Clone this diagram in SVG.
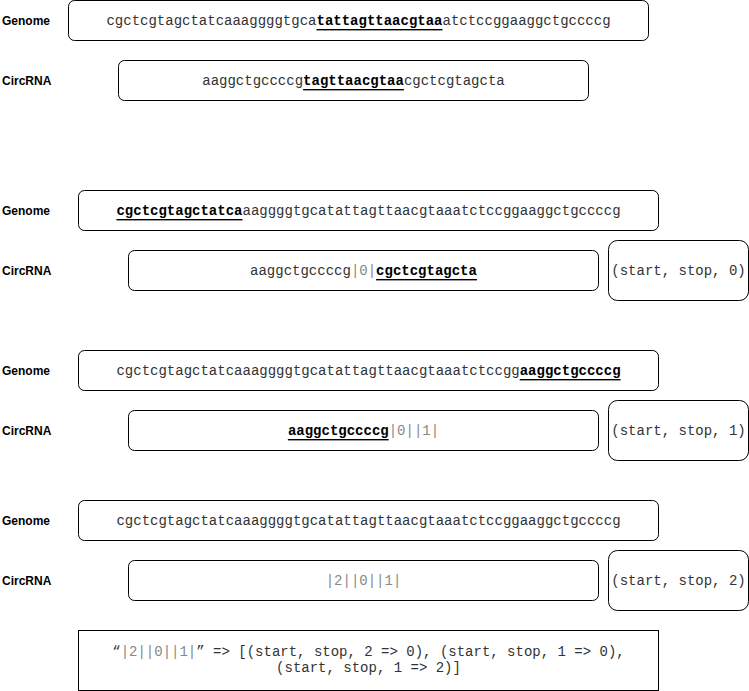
<svg xmlns="http://www.w3.org/2000/svg" width="749" height="691" viewBox="0 0 749 691">
<style>
.box{fill:#fff;stroke:#000;stroke-width:1}
.lbl{font-family:"Liberation Sans",Arial,sans-serif;font-size:12px;font-weight:bold;fill:#000;dominant-baseline:central}
.seq{font-family:"Liberation Mono","Courier New",monospace;font-size:14px;fill:#333;text-anchor:middle;dominant-baseline:central}
.hl{font-weight:bold;text-decoration:underline;fill:#000}
.g{fill:#888}
</style>
<rect width="749" height="691" fill="#fff"/>
<g id="labels">
<text class="lbl" x="2" y="21">Genome</text>
<text class="lbl" x="2" y="81">CircRNA</text>
<text class="lbl" x="2" y="211">Genome</text>
<text class="lbl" x="2" y="271">CircRNA</text>
<text class="lbl" x="2" y="371">Genome</text>
<text class="lbl" x="2" y="431">CircRNA</text>
<text class="lbl" x="2" y="521">Genome</text>
<text class="lbl" x="2" y="581">CircRNA</text>
</g>
<g id="genome1"><rect class="box" x="68.5" y="0.5" width="580" height="40" rx="6"/>
<text class="seq" x="358.5" y="21">cgctcgtagctatcaaaggggtgca<tspan class="hl">tattagttaacgtaa</tspan>atctccggaaggctgccccg</text></g>
<g id="circ1"><rect class="box" x="118.5" y="60.5" width="470" height="40" rx="6"/>
<text class="seq" x="353.5" y="81">aaggctgccccg<tspan class="hl">tagttaacgtaa</tspan>cgctcgtagcta</text></g>
<g id="genome2"><rect class="box" x="78.5" y="190.5" width="580" height="40" rx="6"/>
<text class="seq" x="368.5" y="211"><tspan class="hl">cgctcgtagctatca</tspan>aaggggtgcatattagttaacgtaaatctccggaaggctgccccg</text></g>
<g id="circ2"><rect class="box" x="128.5" y="250.5" width="470" height="40" rx="6"/>
<text class="seq" x="363.5" y="271">aaggctgccccg<tspan class="g">|0|</tspan><tspan class="hl">cgctcgtagcta</tspan></text></g>
<g id="tuple0"><rect class="box" x="608.5" y="240.5" width="140" height="60" rx="9"/>
<text class="seq" x="678.5" y="271">(start, stop, 0)</text></g>
<g id="genome3"><rect class="box" x="78.5" y="350.5" width="580" height="40" rx="6"/>
<text class="seq" x="368.5" y="371">cgctcgtagctatcaaaggggtgcatattagttaacgtaaatctccgg<tspan class="hl">aaggctgccccg</tspan></text></g>
<g id="circ3"><rect class="box" x="128.5" y="410.5" width="470" height="40" rx="6"/>
<text class="seq" x="363.5" y="431"><tspan class="hl">aaggctgccccg</tspan><tspan class="g">|0||1|</tspan></text></g>
<g id="tuple1"><rect class="box" x="608.5" y="400.5" width="140" height="60" rx="9"/>
<text class="seq" x="678.5" y="431">(start, stop, 1)</text></g>
<g id="genome4"><rect class="box" x="78.5" y="500.5" width="580" height="40" rx="6"/>
<text class="seq" x="368.5" y="521">cgctcgtagctatcaaaggggtgcatattagttaacgtaaatctccggaaggctgccccg</text></g>
<g id="circ4"><rect class="box" x="128.5" y="560.5" width="470" height="40" rx="6"/>
<text class="seq" x="363.5" y="581"><tspan class="g">|2||0||1|</tspan></text></g>
<g id="tuple2"><rect class="box" x="608.5" y="550.5" width="140" height="60" rx="9"/>
<text class="seq" x="678.5" y="581">(start, stop, 2)</text></g>
<g id="result"><rect class="box" x="78.5" y="630.5" width="580" height="60"/>
<text class="seq" x="368.5" y="652">“<tspan class="g">|2||0||1|</tspan>” =&gt; [(start, stop, 2 =&gt; 0), (start, stop, 1 =&gt; 0),</text>
<text class="seq" x="368.5" y="668">(start, stop, 1 =&gt; 2)]</text></g>
<g id="connectors"/>
</svg>
